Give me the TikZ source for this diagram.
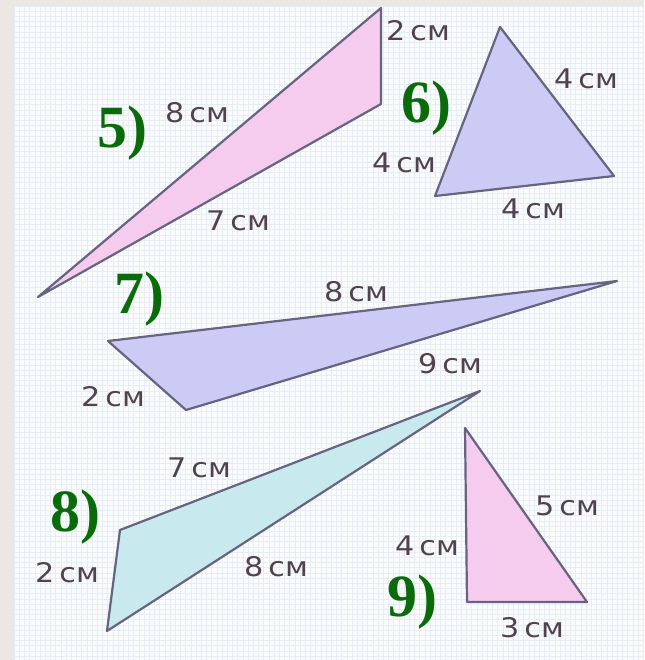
\documentclass[tikz,border=0pt]{standalone}
\usepackage{fontspec}
\setmainfont{Liberation Serif}
\newfontfamily\lblfont{DejaVu Sans}
\definecolor{frame}{HTML}{EBE7E3}
\definecolor{paper}{HTML}{FAFBFD}
\definecolor{gridc}{HTML}{E8EDF4}
\definecolor{edge}{HTML}{66647F}
\definecolor{pinkf}{HTML}{F5CBEE}
\definecolor{lavf}{HTML}{CBCBF6}
\definecolor{cyanf}{HTML}{C8EAEE}
\definecolor{lblc}{HTML}{524250}
\definecolor{numc}{HTML}{0A6B0A}
\tikzset{
  tri/.style={draw=edge, line width=2.2pt, line join=round},
  lbl/.style={text=lblc, inner sep=0pt, font=\lblfont\fontsize{27}{27}\selectfont},
  num/.style={text=numc, inner sep=0pt, font=\bfseries\fontsize{60}{60}\selectfont}
}
\newcommand{\cm}[1]{\scalebox{1.12}[1]{#1\,см}}
\begin{document}
\begin{tikzpicture}[x=1pt,y=-1pt]
\useasboundingbox (0,0) rectangle (644,660);
\fill[frame] (0,0) rectangle (644,660);
\fill[paper] (14,6) rectangle (644,660);
\foreach \i in {0,...,121} {
  \draw[gridc, line width=0.6pt] ({14+5.2*\i},6) -- ({14+5.2*\i},660);
}
\foreach \j in {0,...,126} {
  \draw[gridc, line width=0.6pt] (14,{6+5.2*\j}) -- (644,{6+5.2*\j});
}
% triangle 5
\coordinate (a5) at (38,297); \coordinate (b5) at (381,8); \coordinate (c5) at (381,104);
\filldraw[tri, fill=pinkf] (a5) -- (b5) -- (c5) -- cycle;
\node[lbl] (l5a) at (418,31) {\cm{2}};
\node[lbl] (l5b) at (197,113) {\cm{8}};
\node[lbl] (l5c) at (238,221) {\cm{7}};
\node[num] (n5) at (122,133) {5)};
% triangle 6
\coordinate (a6) at (500,27); \coordinate (b6) at (614,176); \coordinate (c6) at (435,196);
\filldraw[tri, fill=lavf] (a6) -- (b6) -- (c6) -- cycle;
\node[lbl] (l6a) at (586,79) {\cm{4}};
\node[lbl] (l6b) at (404,163) {\cm{4}};
\node[lbl] (l6c) at (533,209) {\cm{4}};
\node[num] (n6) at (426,108) {6)};
% triangle 7
\coordinate (a7) at (108,341); \coordinate (b7) at (617,281); \coordinate (c7) at (186,410);
\filldraw[tri, fill=lavf] (a7) -- (b7) -- (c7) -- cycle;
\node[lbl] (l7a) at (356,292) {\cm{8}};
\node[lbl] (l7b) at (450,364) {\cm{9}};
\node[lbl] (l7c) at (113,397) {\cm{2}};
\node[num] (n7) at (139,299) {7)};
% triangle 8
\coordinate (a8) at (120,530); \coordinate (b8) at (480,391); \coordinate (c8) at (107,631);
\filldraw[tri, fill=cyanf] (a8) -- (b8) -- (c8) -- cycle;
\node[lbl] (l8a) at (199,468) {\cm{7}};
\node[lbl] (l8b) at (276,567) {\cm{8}};
\node[lbl] (l8c) at (67,573) {\cm{2}};
\node[num] (n8) at (75,517) {8)};
% triangle 9
\coordinate (a9) at (465,428); \coordinate (b9) at (587,602); \coordinate (c9) at (467,602);
\filldraw[tri, fill=pinkf] (a9) -- (b9) -- (c9) -- cycle;
\node[lbl] (l9a) at (567,506) {\cm{5}};
\node[lbl] (l9b) at (427,546) {\cm{4}};
\node[lbl] (l9c) at (532,628) {\cm{3}};
\node[num] (n9) at (412,602) {9)};
\end{tikzpicture}
\end{document}
